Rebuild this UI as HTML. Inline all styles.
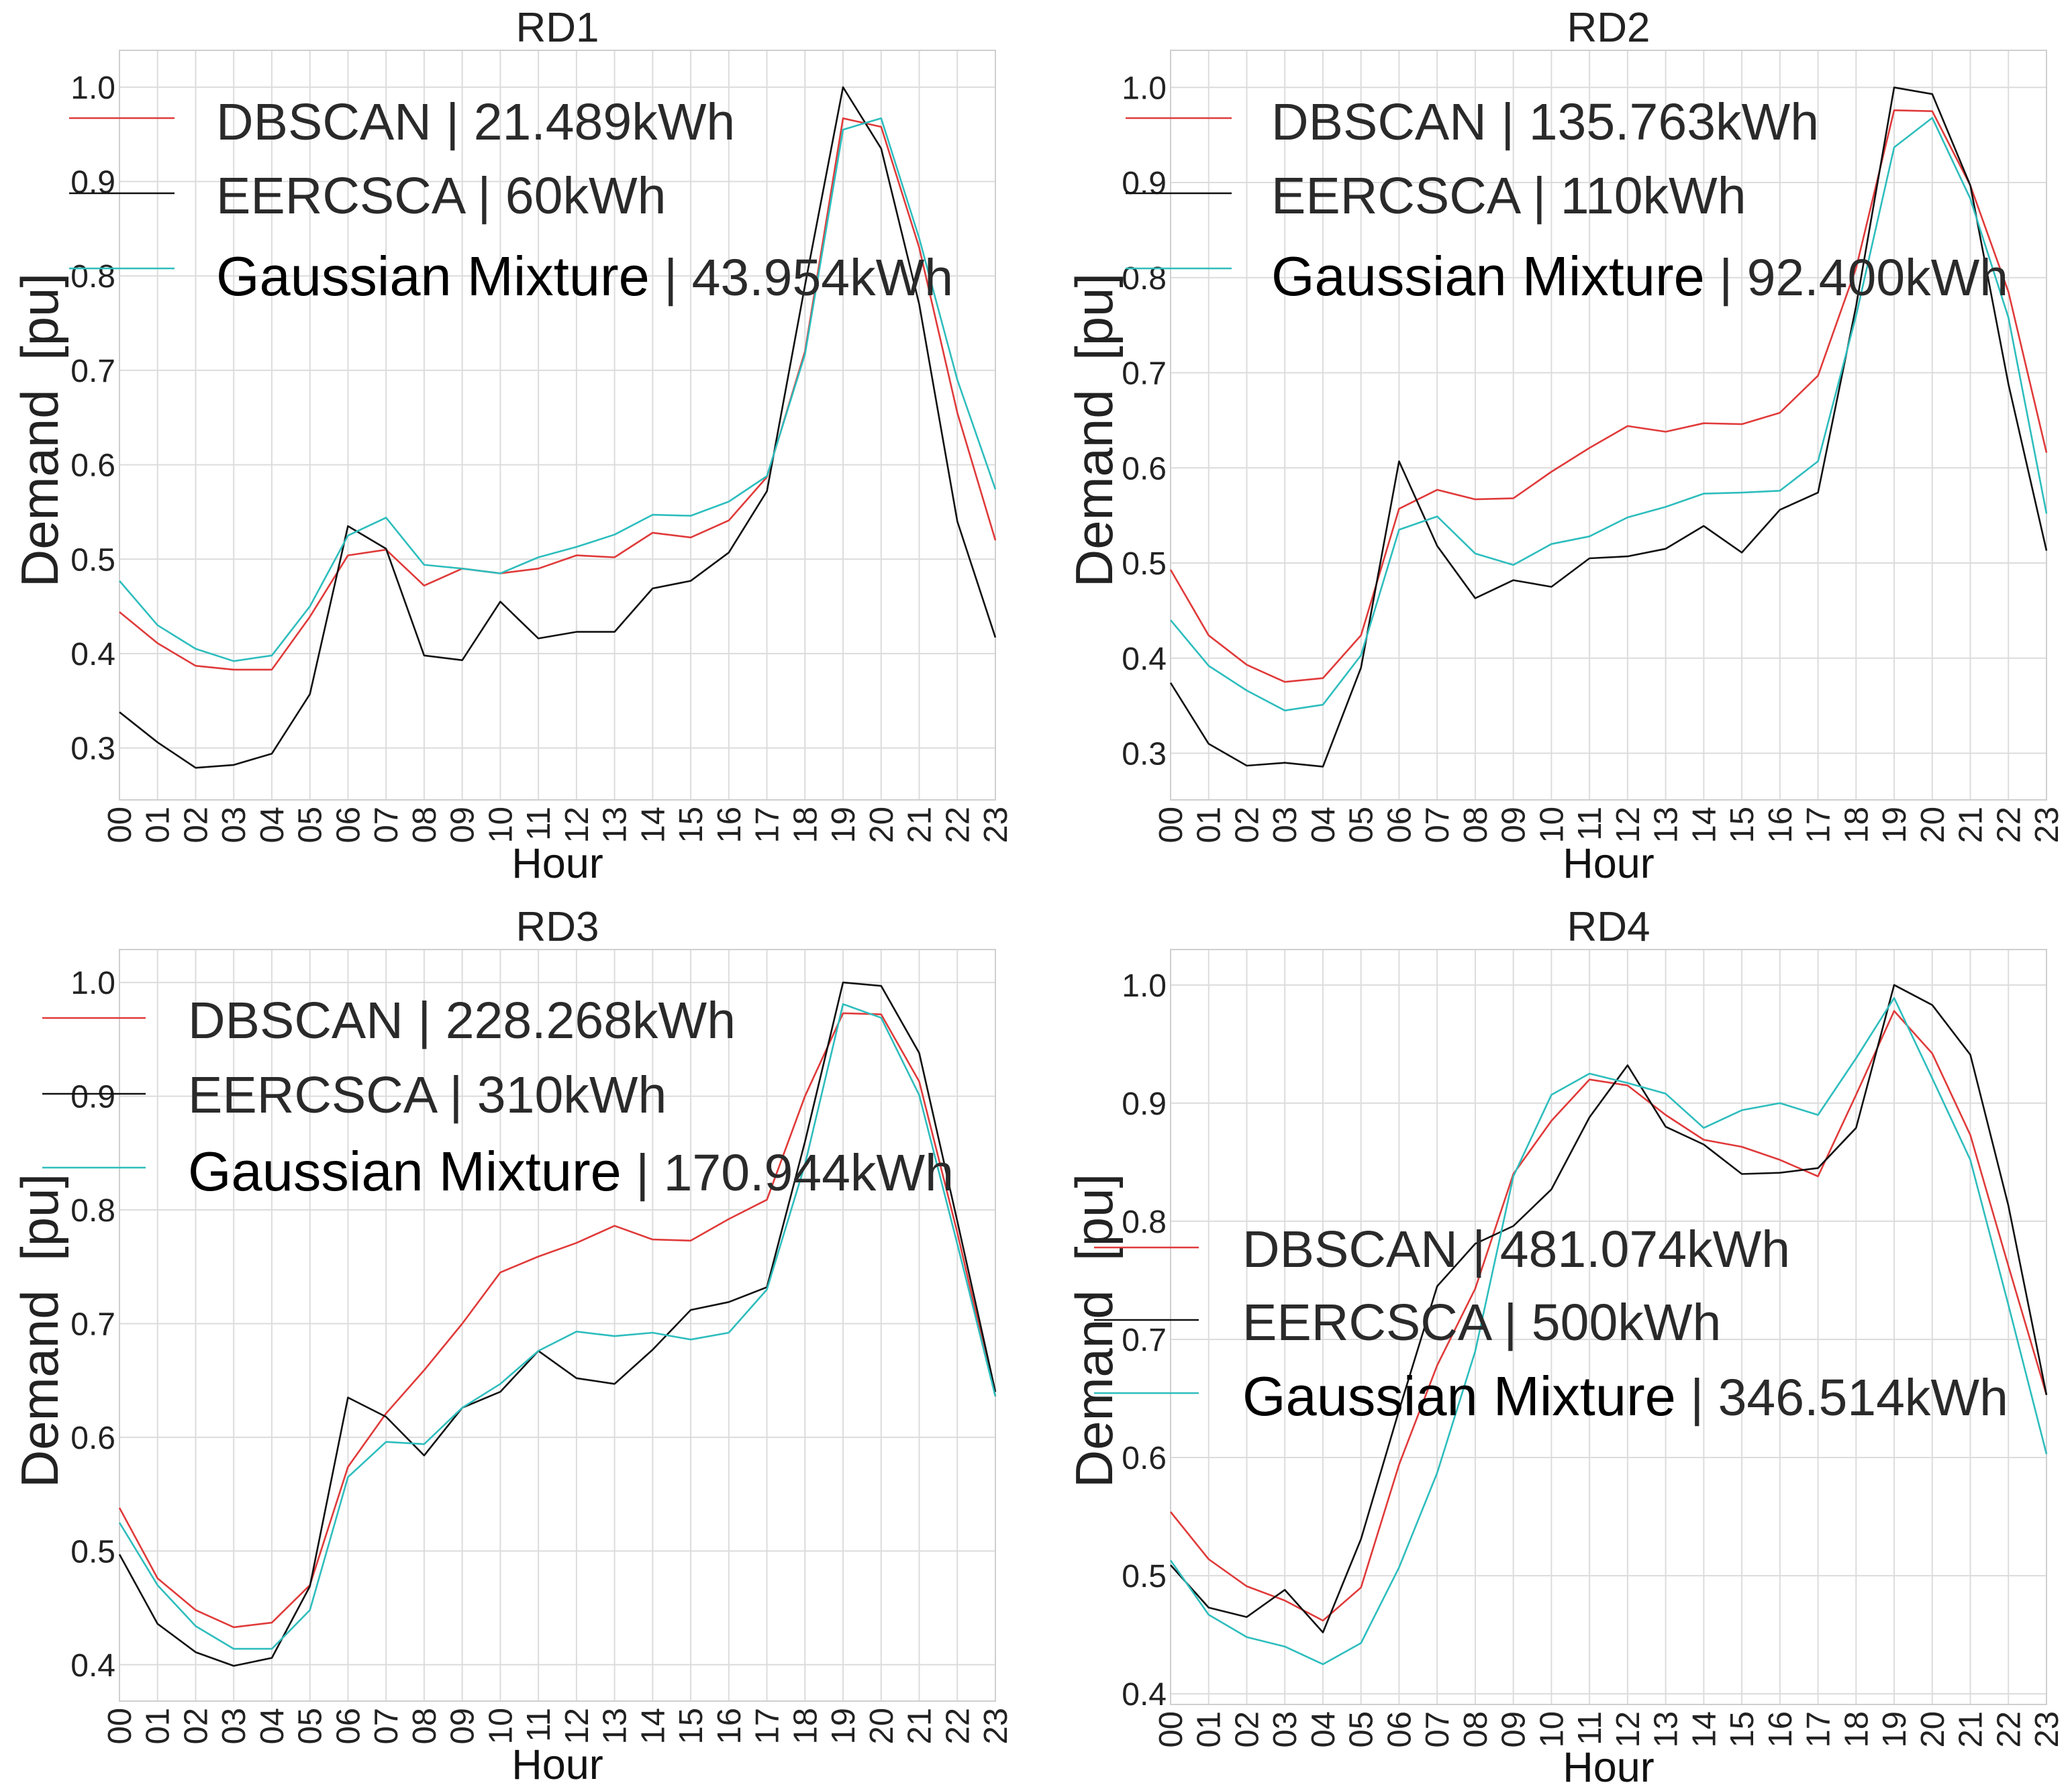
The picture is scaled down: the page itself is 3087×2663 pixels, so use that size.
<!DOCTYPE html>
<html><head><meta charset="utf-8"><style>
html,body{margin:0;padding:0;background:#fff}
svg{display:block}
text{font-family:"Liberation Sans",sans-serif;white-space:pre}
</style></head><body>
<svg id="chart" xmlns="http://www.w3.org/2000/svg" width="3087" height="2663" viewBox="0 0 3087 2663"></svg>
<script>
const hours = ["00","01","02","03","04","05","06","07","08","09","10","11","12","13","14","15","16","17","18","19","20","21","22","23"];
const seriesNames = ["DBSCAN","EERCSCA","Gaussian Mixture"];
const rd1Energy = ["21.489kWh","60kWh","43.954kWh"];
const rd2Energy = ["135.763kWh","110kWh","92.400kWh"];
const rd3Energy = ["228.268kWh","310kWh","170.944kWh"];
const rd4Energy = ["481.074kWh","500kWh","346.514kWh"];
const rd1Dbscan = [0.444,0.411,0.387,0.383,0.383,0.439,0.504,0.510,0.472,0.490,0.485,0.490,0.504,0.502,0.528,0.523,0.541,0.587,0.72,0.967,0.958,0.83,0.655,0.52];
const rd1Eercsca = [0.338,0.306,0.279,0.282,0.294,0.357,0.535,0.511,0.398,0.393,0.455,0.416,0.423,0.423,0.469,0.477,0.507,0.572,0.79,1.0,0.935,0.77,0.54,0.417];
const rd1Gm = [0.477,0.430,0.405,0.392,0.398,0.450,0.525,0.544,0.494,0.490,0.485,0.502,0.513,0.526,0.547,0.546,0.561,0.588,0.717,0.955,0.967,0.84,0.69,0.574];
const rd2Dbscan = [0.493,0.424,0.393,0.375,0.379,0.424,0.557,0.577,0.567,0.568,0.596,0.621,0.644,0.638,0.647,0.646,0.658,0.697,0.81,0.976,0.975,0.897,0.785,0.616];
const rd2Eercsca = [0.374,0.31,0.287,0.29,0.286,0.39,0.607,0.518,0.463,0.482,0.475,0.505,0.507,0.515,0.539,0.511,0.556,0.574,0.77,1.0,0.993,0.897,0.688,0.513];
const rd2Gm = [0.44,0.392,0.366,0.345,0.351,0.403,0.535,0.549,0.51,0.498,0.52,0.528,0.548,0.559,0.573,0.574,0.576,0.607,0.76,0.937,0.968,0.883,0.758,0.552];
const rd3Dbscan = [0.538,0.476,0.448,0.433,0.437,0.47,0.574,0.621,0.659,0.70,0.745,0.759,0.771,0.786,0.774,0.773,0.792,0.809,0.9,0.973,0.972,0.913,0.78,0.636];
const rd3Eercsca = [0.497,0.436,0.411,0.399,0.406,0.469,0.635,0.618,0.584,0.626,0.64,0.676,0.652,0.647,0.677,0.712,0.719,0.732,0.86,1.0,0.997,0.938,0.79,0.64];
const rd3Gm = [0.525,0.47,0.434,0.414,0.414,0.448,0.565,0.596,0.594,0.626,0.647,0.676,0.693,0.689,0.692,0.686,0.692,0.73,0.84,0.981,0.969,0.901,0.77,0.636];
const rd4Dbscan = [0.554,0.514,0.491,0.479,0.462,0.490,0.594,0.678,0.743,0.840,0.885,0.920,0.915,0.890,0.869,0.863,0.852,0.838,0.907,0.978,0.942,0.873,0.762,0.653];
const rd4Eercsca = [0.509,0.473,0.465,0.488,0.452,0.531,0.640,0.745,0.781,0.796,0.827,0.888,0.932,0.880,0.865,0.840,0.841,0.845,0.879,1.0,0.983,0.941,0.813,0.653];
const rd4Gm = [0.513,0.467,0.448,0.440,0.425,0.443,0.507,0.587,0.69,0.838,0.907,0.925,0.917,0.908,0.879,0.894,0.900,0.890,0.938,0.989,0.921,0.852,0.729,0.603];
const rd12Ticks = ["0.3","0.4","0.5","0.6","0.7","0.8","0.9","1.0"];
const rd3Ticks = ["0.4","0.5","0.6","0.7","0.8","0.9","1.0"];
const rd4Ticks = ["0.4","0.5","0.6","0.7","0.8","0.9","1.0"];

const NS="http://www.w3.org/2000/svg";
const svg=document.getElementById('chart');
const colors=["#e03a3a","#111111","#2ebdbd"];
function mk(tag,attrs,parent){const e=document.createElementNS(NS,tag);for(const k in attrs)e.setAttribute(k,attrs[k]);(parent||svg).appendChild(e);return e;}

const panels=[
 {id:"rd1",title:"RD1",x0:178,x1:1483,y0:75,y1:1192,vmin:0.245,vmax:1.039,ticks:rd12Ticks,data:[rd1Dbscan,rd1Eercsca,rd1Gm],energy:rd1Energy,
  leg:{lx:103,lx2:260,ly:[176,288,400],tx:322,ty:[180,290,412]},ylx:59,yly:641,hourY:1308,titleY:62},
 {id:"rd2",title:"RD2",x0:1744,x1:3049,y0:75,y1:1192,vmin:0.251,vmax:1.039,ticks:rd12Ticks,data:[rd2Dbscan,rd2Eercsca,rd2Gm],energy:rd2Energy,
  leg:{lx:1677,lx2:1835,ly:[176,288,400],tx:1894,ty:[180,290,412]},ylx:1630,yly:641,hourY:1308,titleY:62},
 {id:"rd3",title:"RD3",x0:178,x1:1483,y0:1415,y1:2535,vmin:0.368,vmax:1.029,ticks:rd3Ticks,data:[rd3Dbscan,rd3Eercsca,rd3Gm],energy:rd3Energy,
  leg:{lx:63,lx2:217,ly:[1517,1630,1740],tx:280,ty:[1519,1630,1746]},ylx:59,yly:1983,hourY:2651,titleY:1402},
 {id:"rd4",title:"RD4",x0:1744,x1:3049,y0:1415,y1:2540,vmin:0.391,vmax:1.03,ticks:rd4Ticks,data:[rd4Dbscan,rd4Eercsca,rd4Gm],energy:rd4Energy,
  leg:{lx:1630,lx2:1786,ly:[1859,1967,2076],tx:1851,ty:[1860,1969,2081]},ylx:1630,yly:1983,hourY:2655,titleY:1402}
];

panels.forEach(p=>{
  const g=mk('g',{});
  
  
  const xs=i=>p.x0+(p.x1-p.x0)*i/(hours.length-1);
  const ys=v=>p.y1-(v-p.vmin)/(p.vmax-p.vmin)*(p.y1-p.y0);
  hours.forEach((h,i)=>{
    const l=mk('line',{x1:xs(i),x2:xs(i),y1:p.y0,y2:p.y1,stroke:"#dcdcdc","stroke-width":2},g);
    
    
    const t=mk('text',{x:0,y:0,transform:`translate(${xs(i)+17},${p.y1+10}) rotate(-90)`,"text-anchor":"end","font-size":49,fill:"#222"},g);
    t.textContent=h;
    
    
  });
  p.ticks.forEach(tk=>{
    const v=parseFloat(tk),y=ys(v);
    const l=mk('line',{x1:p.x0,x2:p.x1,y1:y,y2:y,stroke:"#dcdcdc","stroke-width":2},g);
    
    
    const t=mk('text',{x:p.x0-6,y:y+17,"text-anchor":"end","font-size":48,fill:"#222"},g);
    t.textContent=tk;
    
    
  });
  const fr=mk('rect',{x:p.x0,y:p.y0,width:p.x1-p.x0,height:p.y1-p.y0,fill:"none",stroke:"#cfcfcf","stroke-width":2},g);
  
  
  p.data.forEach((arr,si)=>{
    const d=arr.map((v,i)=>(i?'L':'M')+xs(i).toFixed(1)+','+ys(v).toFixed(1)).join(' ');
    const path=mk('path',{d:d,fill:"none",stroke:colors[si],"stroke-width":2.6,"stroke-linejoin":"round"},g);
    
    
  });
  const tt=mk('text',{x:(p.x0+p.x1)/2,y:p.titleY,"text-anchor":"middle","font-size":62,fill:"#222"},g);
  tt.textContent=p.title;
  
  
  const hx=mk('text',{x:(p.x0+p.x1)/2,y:p.hourY,"text-anchor":"middle","font-size":63,fill:"#111"},g);
  hx.textContent="Hour";
  
  
  const yl=mk('text',{x:0,y:0,transform:`translate(${p.ylx+27},${p.yly}) rotate(-90)`,"text-anchor":"middle","font-size":78,fill:"#222"},g);
  yl.textContent="Demand  [pu]";
  
  
  seriesNames.forEach((n,si)=>{
    const le=mk('g',{},g);
    
    
    mk('line',{x1:p.leg.lx,x2:p.leg.lx2,y1:p.leg.ly[si],y2:p.leg.ly[si],stroke:colors[si],"stroke-width":2.6},le);
    const isGm=si===2;
    const t=mk('text',{x:p.leg.tx,y:p.leg.ty[si]+28,"font-size":isGm?83:77,fill:isGm?"#000":"#2a2a2a"},le);
    const s1=mk('tspan',{},t);s1.textContent=n+(isGm?"":" ");
    const s2=mk('tspan',{"font-size":77,fill:"#2a2a2a"},t);s2.textContent=(isGm?" ":"")+"| "+p.energy[si];
  });
});
</script>
</body></html>
